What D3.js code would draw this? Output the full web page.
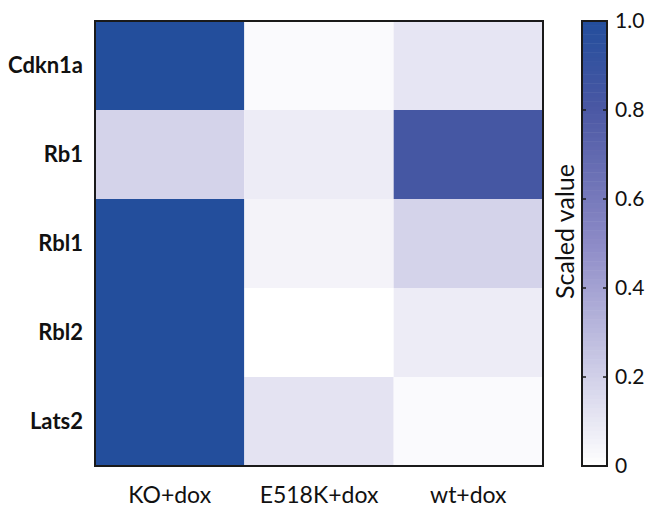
<!DOCTYPE html>
<html>
<head>
<meta charset="utf-8">
<script src="https://cdn.jsdelivr.net/npm/d3@7"></script>
<style>
  html, body { margin: 0; padding: 0; background: #ffffff; }
  svg { display: block; font-family: Lato, "Open Sans", sans-serif; }
</style>
</head>
<body>
<svg id="chart" width="646" height="507"></svg>
<script>
// Genes (rows) and conditions (columns)
const genes = ["Cdkn1a", "Rb1", "Rbl1", "Rbl2", "Lats2"];
const conditions = ["KO+dox", "E518K+dox", "wt+dox"];

// Scaled expression, one array per condition, ordered as genes
const koDox    = [1.00, 0.19, 1.00, 1.00, 1.00];
const e518kDox = [0.02, 0.08, 0.05, 0.00, 0.12];
const wtDox    = [0.11, 0.83, 0.19, 0.08, 0.02];

const colorTicks = [0, 0.2, 0.4, 0.6, 0.8, 1.0];
const colorTickLabels = ["0", "0.2", "0.4", "0.6", "0.8", "1.0"];
const colorbarTitle = "Scaled value";

const seriesByCondition = [koDox, e518kDox, wtDox];
const cells = [];
conditions.forEach((c, ci) => {
  genes.forEach((g, gi) => {
    cells.push({ gene: g, condition: c, value: seriesByCondition[ci][gi] });
  });
});

const svg = d3.select("#chart");
const heat = { left: 95, top: 21, right: 543, bottom: 466 };

const x = d3.scaleBand().domain(conditions).range([heat.left, heat.right]);
const y = d3.scaleBand().domain(genes).range([heat.top, heat.bottom]);

// White -> lavender -> indigo -> deep blue
const color = d3.scaleLinear()
  .domain([0, 0.5, 0.8, 1])
  .range(["#ffffff", "#8d8bc7", "#4b58a4", "#234e9c"])
  .interpolate(d3.interpolateRgb)
  .clamp(true);

// Heatmap cells
svg.append("g")
  .selectAll("rect")
  .data(cells)
  .join("rect")
  .attr("x", d => x(d.condition))
  .attr("y", d => y(d.gene))
  .attr("width", x.bandwidth())
  .attr("height", y.bandwidth())
  .attr("fill", d => color(d.value));

// Frame
svg.append("rect")
  .attr("x", heat.left)
  .attr("y", heat.top)
  .attr("width", heat.right - heat.left)
  .attr("height", heat.bottom - heat.top)
  .attr("fill", "none")
  .attr("stroke", "#1a1a1a")
  .attr("stroke-width", 2);

// Row labels
svg.append("g")
  .selectAll("text")
  .data(genes)
  .join("text")
  .attr("x", 83)
  .attr("y", d => y(d) + y.bandwidth() / 2)
  .attr("dy", "0.35em")
  .attr("text-anchor", "end")
  .attr("font-weight", "bold")
  .attr("font-size", 22)
  .attr("fill", "#111")
  .text(d => d);

// Column labels
svg.append("g")
  .selectAll("text")
  .data(conditions)
  .join("text")
  .attr("x", d => x(d) + x.bandwidth() / 2)
  .attr("y", 503)
  .attr("text-anchor", "middle")
  .attr("font-size", 23)
  .attr("fill", "#111")
  .text(d => d);

// Colorbar
const cb = { left: 582, right: 607, top: 21, bottom: 466 };
const cy = d3.scaleLinear().domain([0, 1]).range([cb.bottom, cb.top]);
const steps = d3.range(0, 100).map(i => i / 100);
svg.append("g")
  .selectAll("rect")
  .data(steps)
  .join("rect")
  .attr("x", cb.left)
  .attr("y", d => cy(d + 0.01))
  .attr("width", cb.right - cb.left)
  .attr("height", d => cy(d) - cy(d + 0.01) + 0.5)
  .attr("fill", d => color(d + 0.005));

svg.append("rect")
  .attr("x", cb.left)
  .attr("y", cb.top)
  .attr("width", cb.right - cb.left)
  .attr("height", cb.bottom - cb.top)
  .attr("fill", "none")
  .attr("stroke", "#1a1a1a")
  .attr("stroke-width", 2);

// Inward tick marks on both sides of the colorbar
const inner = colorTicks.filter(t => t > 0 && t < 1);
svg.append("g")
  .selectAll("line")
  .data(inner)
  .join("line")
  .attr("x1", cb.left)
  .attr("x2", cb.left + 4)
  .attr("y1", d => cy(d))
  .attr("y2", d => cy(d))
  .attr("stroke", "#1a1a1a")
  .attr("stroke-width", 1.5);
svg.append("g")
  .selectAll("line")
  .data(inner)
  .join("line")
  .attr("x1", cb.right - 4)
  .attr("x2", cb.right)
  .attr("y1", d => cy(d))
  .attr("y2", d => cy(d))
  .attr("stroke", "#1a1a1a")
  .attr("stroke-width", 1.5);

svg.append("g")
  .selectAll("text")
  .data(colorTicks)
  .join("text")
  .attr("x", 615)
  .attr("y", d => cy(d))
  .attr("dy", "0.35em")
  .attr("font-size", 21)
  .attr("fill", "#111")
  .text((d, i) => colorTickLabels[i]);

svg.append("text")
  .attr("transform", `translate(574,${(cb.top + cb.bottom) / 2 - 12}) rotate(-90)`)
  .attr("text-anchor", "middle")
  .attr("font-size", 25)
  .attr("fill", "#111")
  .text(colorbarTitle);
</script>
</body>
</html>
